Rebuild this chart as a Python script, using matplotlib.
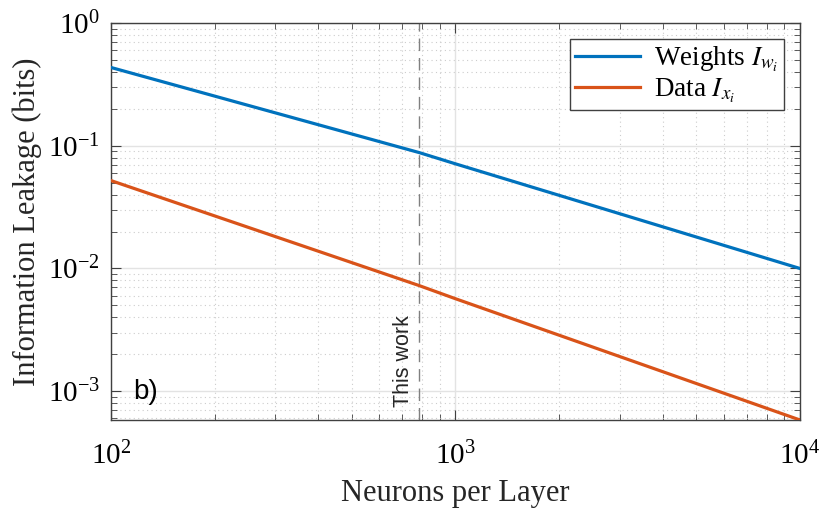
import matplotlib
matplotlib.use("Agg")
import matplotlib.pyplot as plt
from matplotlib.ticker import LogLocator, NullFormatter

plt.rcParams['font.family'] = ['Liberation Serif', 'DejaVu Serif']
plt.rcParams['mathtext.fontset'] = 'stix'

# values
neurons = [100, 784, 1000, 10000]
leak_weights = [0.434, 0.088, 0.0712, 0.0100]
leak_data = [0.052, 0.00726, 0.00567, 0.000583]
this_work = 784

fig = plt.figure(figsize=(8.26, 5.12), dpi=100)
ax = fig.add_axes([0.1344, 0.1797, 0.8341, 0.7754])

ax.loglog(neurons, leak_weights, color='#0072BD', lw=2.3, label=r'Weights $I_{w_i}$', zorder=3)
ax.loglog(neurons, leak_data, color='#D95319', lw=2.3, label=r'Data $I_{x_i}$', zorder=3)
ax.axvline(this_work, color='#808080', lw=1.0, ls=(0, (9, 5)), zorder=2)

ax.set_xlim(100, 10000)
ax.set_ylim(leak_data[-1], 1)

ax.xaxis.set_major_locator(LogLocator(base=10, numticks=10))
ax.yaxis.set_major_locator(LogLocator(base=10, numticks=10))
ax.xaxis.set_minor_locator(LogLocator(base=10, subs=range(2, 10), numticks=20))
ax.yaxis.set_minor_locator(LogLocator(base=10, subs=range(2, 10), numticks=20))
ax.xaxis.set_minor_formatter(NullFormatter())
ax.yaxis.set_minor_formatter(NullFormatter())

ax.grid(True, which='major', color='#e3e3e3', lw=1.0, ls='-')
ax.grid(True, which='minor', color='#cccccc', lw=0.8, ls=(0, (1, 3)))
ax.set_axisbelow(True)

ax.tick_params(which='both', direction='in', top=True, right=True, color='#404040')
ax.tick_params(which='major', length=7, width=0.8)
ax.tick_params(which='minor', length=4, width=0.6)
ax.tick_params(axis='x', which='major', labelsize=21, pad=16)
ax.tick_params(axis='y', which='major', labelsize=21, pad=8)
for s in ax.spines.values():
    s.set_color('#404040')
    s.set_linewidth(1.0)

ax.set_xlabel('Neurons per Layer', fontsize=22, color='#262626', labelpad=6)
ax.set_ylabel('Information Leakage (bits)', fontsize=22, color='#262626', labelpad=4)

ax.text(this_work * 0.965, 0.00075, 'This work', rotation=90, fontsize=15.5,
        family='Liberation Sans', ha='right', va='bottom', color='#262626')
ax.text(0.032, 0.07, 'b)', transform=ax.transAxes, fontsize=20,
        family='Liberation Sans', ha='left', va='center', color='black')

leg = ax.legend(loc='upper right', fontsize=19.5, handlelength=2.4, handletextpad=0.5,
                borderpad=0.2, labelspacing=0.1, borderaxespad=0.6, fancybox=False,
                framealpha=1, edgecolor='#404040')
leg.get_frame().set_linewidth(1.0)

fig.savefig('out.png', dpi=100)
